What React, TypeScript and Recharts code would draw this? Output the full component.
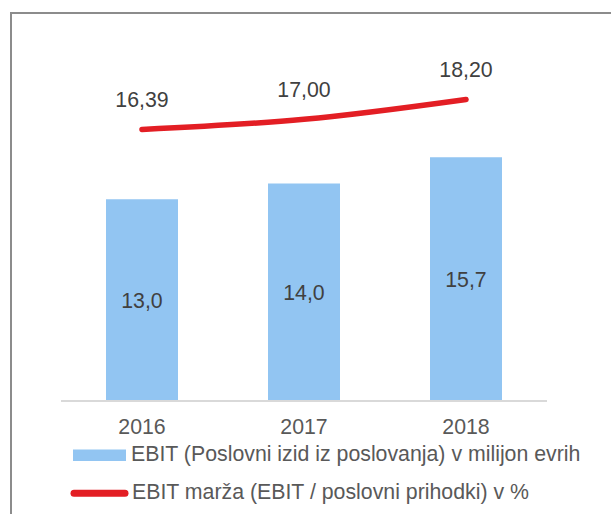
import { ComposedChart, Bar, Line, XAxis, YAxis, Legend, LabelList } from "recharts"

const years = ["2016", "2017", "2018"]
const ebit = [13.0, 14.0, 15.7]
const margin = [16.39, 17.0, 18.2]

const BAR_NAME = "EBIT (Poslovni izid iz poslovanja) v milijon evrih"
const LINE_NAME = "EBIT marža (EBIT / poslovni prihodki) v %"

const BLUE = "#92C5F2"
const RED = "#E31E24"
const FONT = "'Liberation Sans', Arial, sans-serif"
const FS = 21.3

const data = years.map((y, i) => ({ year: y, ebit: ebit[i], margin: margin[i] }))

const fmt = (d: number) => (v: unknown) => Number(v).toFixed(d).replace(".", ",")

const renderLegend = () => (
  <svg width={611} height={74} style={{ display: "block" }} fontFamily={FONT}>
    <rect x={73} y={9.5} width={53} height={11.5} fill={BLUE} />
    <text x={131} y={21} fontSize={FS} fill="#595959">{BAR_NAME}</text>
    <line x1={74} y1={53.3} x2={125} y2={53.3} stroke={RED} strokeWidth={7} strokeLinecap="round" />
    <text x={132} y={59} fontSize={FS} fill="#595959">{LINE_NAME}</text>
  </svg>
)

export default function App() {
  return (
    <div style={{ position: "absolute", left: 0, top: 0, width: 611, height: 514, overflow: "hidden", background: "#fff", fontFamily: FONT }}>
      <div style={{ position: "absolute", left: 10, top: 12, width: 700, height: 600, border: "2px solid #8c8c8c" }} />
      <div style={{ position: "absolute", left: 0, top: 0 }}>
        <ComposedChart width={611} height={514} data={data} margin={{ top: 92, right: 64, bottom: 0, left: 61 }}>
          <XAxis
            dataKey="year"
            height={39}
            tickLine={false}
            axisLine={{ stroke: "#d9d9d9", strokeWidth: 2 }}
            tick={{ fontSize: FS, fill: "#595959", fontFamily: FONT }}
            tickMargin={12}
          />
          <YAxis yAxisId="left" hide domain={[0, 19.9]} />
          <YAxis yAxisId="right" orientation="right" hide domain={[0, 18.65]} />
          <Legend verticalAlign="bottom" content={renderLegend} wrapperStyle={{ left: 0, width: 611, bottom: 0 }} />
          <Bar yAxisId="left" dataKey="ebit" name={BAR_NAME} fill={BLUE} barSize={72} isAnimationActive={false}>
            <LabelList dataKey="ebit" position="center" formatter={fmt(1)} fill="#404040" fontSize={FS} fontFamily={FONT} />
          </Bar>
          <Line
            yAxisId="right"
            type="monotone"
            dataKey="margin"
            name={LINE_NAME}
            stroke={RED}
            strokeWidth={5.5}
            strokeLinecap="round"
            dot={false}
            isAnimationActive={false}
          >
            <LabelList dataKey="margin" position="top" offset={22} formatter={fmt(2)} fill="#404040" fontSize={FS} fontFamily={FONT} />
          </Line>
        </ComposedChart>
      </div>
    </div>
  )
}
